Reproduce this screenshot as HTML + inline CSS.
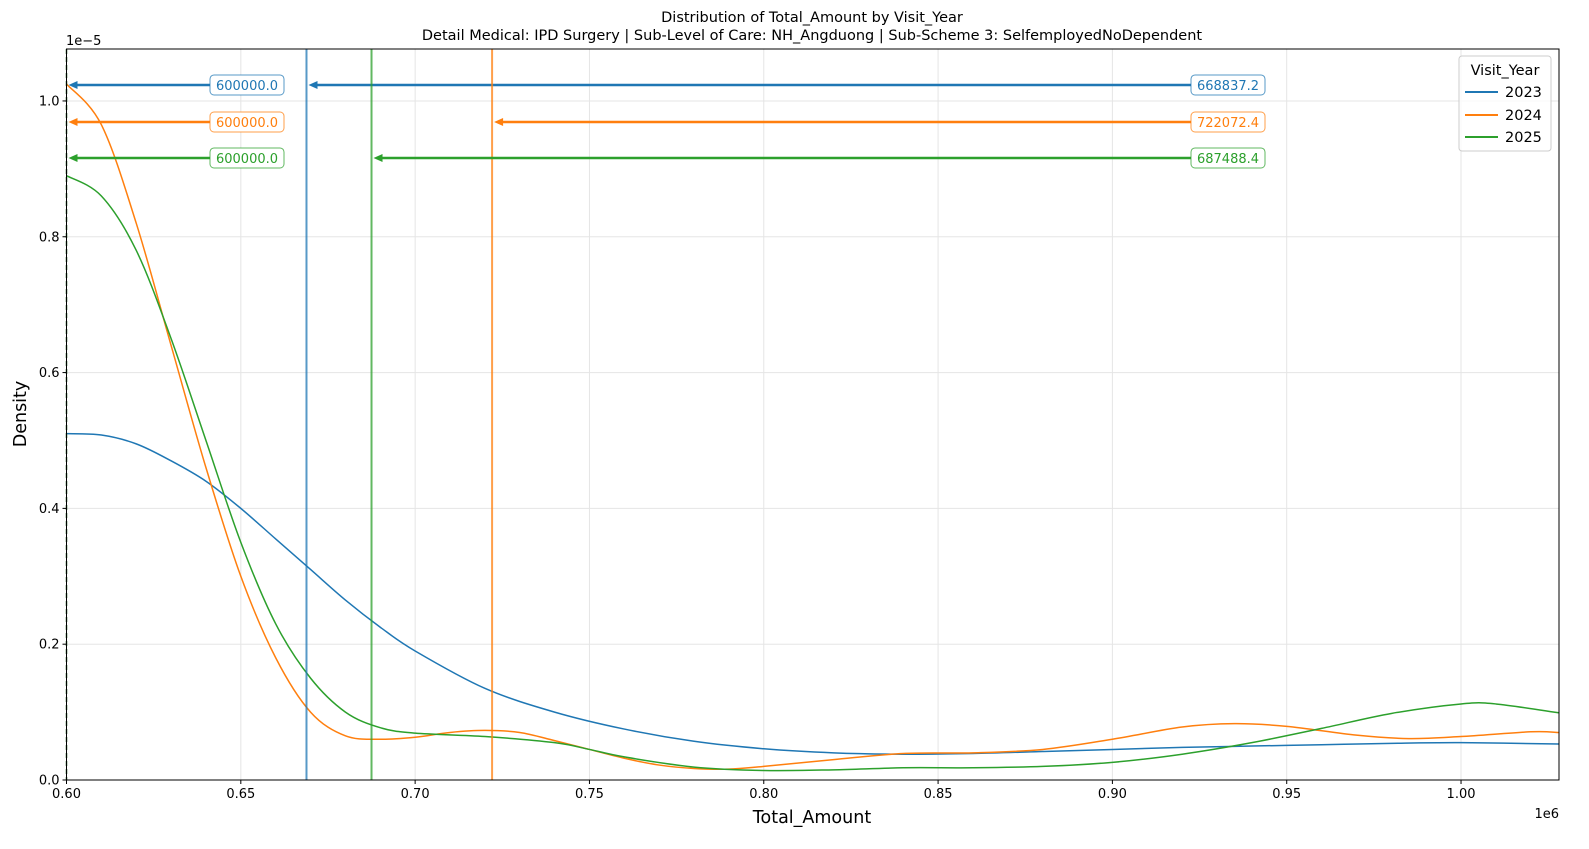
<!DOCTYPE html>
<html><head><meta charset="utf-8"><style>
body{margin:0;background:#fff}
svg{display:block;font-family:"DejaVu Sans","Liberation Sans",sans-serif}
</style></head><body>
<svg id="chart" width="1589" height="849" viewBox="0 0 1589 849" xmlns="http://www.w3.org/2000/svg">
<rect width="1589" height="849" fill="#fff"/>
<g id="grid"></g>
<g id="marks"></g>
<g id="axes"></g>
<text x="812" y="22" text-anchor="middle" font-size="14.5">Distribution of Total_Amount by Visit_Year</text>
<text x="812" y="40" text-anchor="middle" font-size="14.5">Detail Medical: IPD Surgery | Sub-Level of Care: NH_Angduong | Sub-Scheme 3: SelfemployedNoDependent</text>
<text x="812" y="823" text-anchor="middle" font-size="17.5">Total_Amount</text>
<text transform="translate(26,414) rotate(-90)" text-anchor="middle" font-size="17.5">Density</text>
<text x="66" y="45" font-size="13">1e−5</text>
<text x="1559" y="818" text-anchor="end" font-size="13">1e6</text>
<g>
<rect x="1459" y="56" width="92" height="95" rx="3" fill="#fff" fill-opacity="0.8" stroke="#ccc"/>
<text x="1505" y="75" text-anchor="middle" font-size="14.5">Visit_Year</text>
<line x1="1465" y1="92" x2="1498" y2="92" stroke="#1f77b4" stroke-width="2"/><text x="1505" y="97" font-size="14.5">2023</text>
<line x1="1465" y1="115" x2="1498" y2="115" stroke="#ff7f0e" stroke-width="2"/><text x="1505" y="120" font-size="14.5">2024</text>
<line x1="1465" y1="137" x2="1498" y2="137" stroke="#2ca02c" stroke-width="2"/><text x="1505" y="142" font-size="14.5">2025</text>
</g>
</svg>
<script>
const years = ['2023','2024','2025'];
const colors = ['#1f77b4','#ff7f0e','#2ca02c'];
const xTicks = [0.60,0.65,0.70,0.75,0.80,0.85,0.90,0.95,1.00];
const yTicks = [0,0.2,0.4,0.6,0.8,1.0];
const x2023 = [0.60,0.61,0.62,0.63,0.64,0.65,0.66,0.67,0.68,0.69,0.70,0.72,0.74,0.76,0.78,0.80,0.82,0.84,0.86,0.88,0.90,0.92,0.94,0.96,0.98,1.00,1.028];
const d2023 = [0.51,0.508,0.495,0.47,0.44,0.40,0.355,0.31,0.265,0.225,0.19,0.135,0.10,0.075,0.057,0.046,0.04,0.038,0.039,0.042,0.045,0.048,0.05,0.052,0.054,0.055,0.053];
const x2024 = [0.60,0.61,0.62,0.63,0.64,0.65,0.66,0.67,0.68,0.69,0.70,0.71,0.72,0.73,0.74,0.75,0.76,0.77,0.78,0.79,0.80,0.82,0.84,0.86,0.88,0.90,0.92,0.935,0.95,0.97,0.985,1.00,1.02,1.028];
const d2024 = [1.025,0.965,0.82,0.64,0.46,0.30,0.18,0.10,0.065,0.06,0.063,0.07,0.073,0.07,0.058,0.045,0.032,0.022,0.017,0.016,0.02,0.03,0.039,0.04,0.045,0.06,0.078,0.083,0.079,0.066,0.061,0.064,0.071,0.070];
const x2025 = [0.60,0.61,0.62,0.63,0.64,0.65,0.66,0.67,0.68,0.69,0.70,0.72,0.74,0.75,0.76,0.78,0.80,0.82,0.84,0.86,0.88,0.90,0.92,0.94,0.96,0.98,1.00,1.01,1.028];
const d2025 = [0.89,0.86,0.78,0.65,0.50,0.35,0.23,0.15,0.10,0.077,0.069,0.064,0.055,0.045,0.034,0.019,0.014,0.015,0.018,0.018,0.02,0.026,0.038,0.055,0.076,0.098,0.112,0.112,0.099];
const means = [668837.2,722072.4,687488.4];
const mins = [600000.0,600000.0,600000.0];
const arrowY = [1.0235,0.969,0.916];

const L=66.5,R=1559,T=49,B=780;
const X0=0.6,X1=1.0281,Y0=0,Y1=1.0765;
const sx=v=>L+(v-X0)/(X1-X0)*(R-L);
const sy=v=>B-(v-Y0)/(Y1-Y0)*(B-T);
const NS='http://www.w3.org/2000/svg';
function mk(tag,attrs,parent){const e=document.createElementNS(NS,tag);for(const k in attrs)e.setAttribute(k,attrs[k]);parent.appendChild(e);return e;}
const grid=document.getElementById('grid'),marks=document.getElementById('marks'),axes=document.getElementById('axes');

xTicks.forEach(t=>{const x=sx(t);
 const g=mk('line',{x1:x,y1:T,x2:x,y2:B,stroke:'#e5e5e5','stroke-width':1},grid);
 
 
 mk('line',{x1:x,y1:B,x2:x,y2:B+4,stroke:'#000'},axes);
 const tx=mk('text',{x:x,y:B+18,'text-anchor':'middle','font-size':13},axes);tx.textContent=t.toFixed(2);
 
 
});
yTicks.forEach(t=>{const y=sy(t);
 const g=mk('line',{x1:L,y1:y,x2:R,y2:y,stroke:'#e5e5e5','stroke-width':1},grid);
 
 
 mk('line',{x1:L-4,y1:y,x2:L,y2:y,stroke:'#000'},axes);
 const tx=mk('text',{x:L-7,y:y+4.5,'text-anchor':'end','font-size':13},axes);tx.textContent=t.toFixed(1);
 
 
});
mk('rect',{x:L,y:T,width:R-L,height:B-T,fill:'none',stroke:'#000','stroke-width':1},axes);

function smooth(xs,ys){const p=xs.map((v,i)=>[sx(v),sy(ys[i])]);let d='M'+p[0][0]+','+p[0][1];
 for(let i=0;i<p.length-1;i++){const p0=p[i-1]||p[i],p1=p[i],p2=p[i+1],p3=p[i+2]||p2;
  const c1=[p1[0]+(p2[0]-p0[0])/6,p1[1]+(p2[1]-p0[1])/6],c2=[p2[0]-(p3[0]-p1[0])/6,p2[1]-(p3[1]-p1[1])/6];
  d+=` C${c1[0]},${c1[1]} ${c2[0]},${c2[1]} ${p2[0]},${p2[1]}`;}
 return d;}
const xs=[x2023,x2024,x2025],ds=[d2023,d2024,d2025];
const cp=mk('clipPath',{id:'clip'},marks);mk('rect',{x:L,y:T,width:R-L,height:B-T},cp);
years.forEach((y,i)=>{
 const p=mk('path',{d:smooth(xs[i],ds[i]),fill:'none',stroke:colors[i],'stroke-width':1.5,'clip-path':'url(#clip)'},marks);
 
 
});
const dl=mk('line',{x1:sx(mins[0]/1e6),y1:T,x2:sx(mins[0]/1e6),y2:B,stroke:'#2c6e2c','stroke-width':1.5,'stroke-dasharray':'5,3'},marks);


years.forEach((y,i)=>{
 const mx=sx(means[i]/1e6);
 const v=mk('line',{x1:mx,y1:T,x2:mx,y2:B,stroke:colors[i],'stroke-width':2,'stroke-opacity':0.75},marks);
 
 
 const ay=sy(arrowY[i]);
 [[sx(mins[i]/1e6),210,mins[i]],[mx,1191,means[i]]].forEach(([tx,bx,val],k)=>{
  const g=mk('g',{},marks);
  
  
  mk('line',{x1:bx,y1:ay,x2:tx+10,y2:ay,stroke:colors[i],'stroke-width':2.5},g);
  mk('path',{d:`M${tx+2},${ay} L${tx+11},${ay-4} L${tx+11},${ay+4} Z`,fill:colors[i]},g);
  mk('rect',{x:bx,y:ay-10,width:74,height:20,rx:4,fill:'#fff',stroke:colors[i],'stroke-opacity':0.75},g);
  const t=mk('text',{x:bx+37,y:ay+5,'text-anchor':'middle','font-size':13,fill:colors[i]},g);t.textContent=val.toFixed(1);
 });
});
</script>
</body></html>
